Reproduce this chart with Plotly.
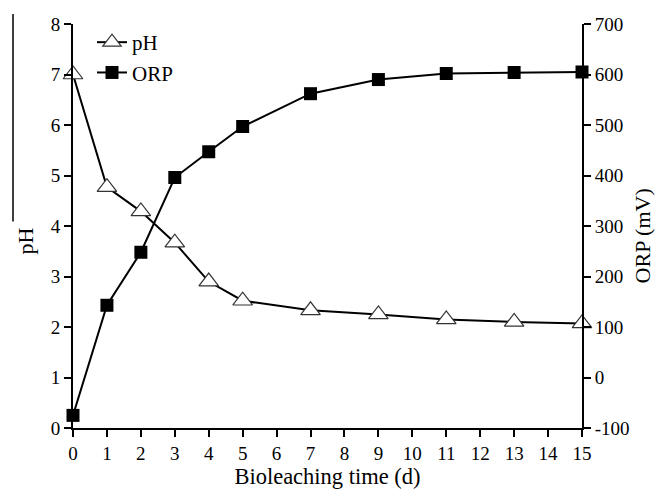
import plotly.graph_objects as go

days = [0, 1, 2, 3, 4, 5, 7, 9, 11, 13, 15]
ph = [7.0, 4.77, 4.29, 3.67, 2.90, 2.52, 2.33, 2.25, 2.15, 2.10, 2.07]
orp = [-75, 143, 248, 396, 447, 497, 562, 590, 602, 604, 605]

x_ticks = list(range(0, 16))
ph_ticks = list(range(0, 9))
orp_ticks = list(range(-100, 701, 100))
orp_tick_labels = [str(v) for v in orp_ticks]

FONT = "Liberation Serif"
W, H = 657, 496
L, R, T, B = 73, 75, 24, 65
PW, PH = W - L - R, H - T - B


def px_x(px):
    return (px - L) / PW


def px_y(py):
    return (H - B - py) / PH


fig = go.Figure()
fig.add_trace(go.Scatter(
    x=days, y=ph, name="pH", mode="lines+markers",
    line=dict(color="black", width=2),
    marker=dict(symbol="triangle-up", size=17, color="white",
                line=dict(color="#333", width=1.2)),
    cliponaxis=False,
))
fig.add_trace(go.Scatter(
    x=days, y=orp, name="ORP", mode="lines+markers", yaxis="y2",
    line=dict(color="black", width=2),
    marker=dict(symbol="square", size=13, color="black",
                line=dict(color="black", width=0)),
    cliponaxis=False,
))

axis_common = dict(
    showgrid=False, zeroline=False, showline=True, linecolor="black",
    linewidth=2, ticks="outside", ticklen=7, tickwidth=2, tickcolor="black",
    tickfont=dict(family=FONT, size=19, color="black"),
)

fig.update_layout(
    width=W, height=H,
    margin=dict(l=L, r=R, t=T, b=B),
    paper_bgcolor="white", plot_bgcolor="white",
    font=dict(family=FONT, size=19, color="black"),
    xaxis=dict(range=[0, 15], tickvals=x_ticks, **axis_common,
               title=dict(text="Bioleaching time (d)",
                          font=dict(family=FONT, size=22.5), standoff=4)),
    yaxis=dict(range=[0, 8], tickvals=ph_ticks, **axis_common),
    yaxis2=dict(range=[-100, 700], tickvals=orp_ticks, ticktext=orp_tick_labels,
                overlaying="y", side="right", **axis_common),
    legend=dict(x=px_x(92), y=px_y(22), xanchor="left", yanchor="top",
                bgcolor="rgba(0,0,0,0)", borderwidth=0, tracegroupgap=0,
                font=dict(family=FONT, size=21)),
    annotations=[
        dict(text="pH", x=px_x(25), y=px_y(243), xref="paper", yref="paper",
             xanchor="center", yanchor="middle", showarrow=False,
             textangle=-90, font=dict(family=FONT, size=22)),
        dict(text="ORP (mV)", x=px_x(642), y=px_y(238), xref="paper",
             yref="paper", xanchor="center", yanchor="middle",
             showarrow=False, textangle=-90, font=dict(family=FONT, size=22)),
    ],
)
fig.add_shape(type="line", xref="paper", yref="paper",
              x0=px_x(13), x1=px_x(13), y0=px_y(14), y1=px_y(223),
              line=dict(color="black", width=1.5))

fig.write_html(
    "out.html",
    config={"displayModeBar": False},
    post_script="document.body.style.margin='0';document.body.style.overflow='hidden';",
)
